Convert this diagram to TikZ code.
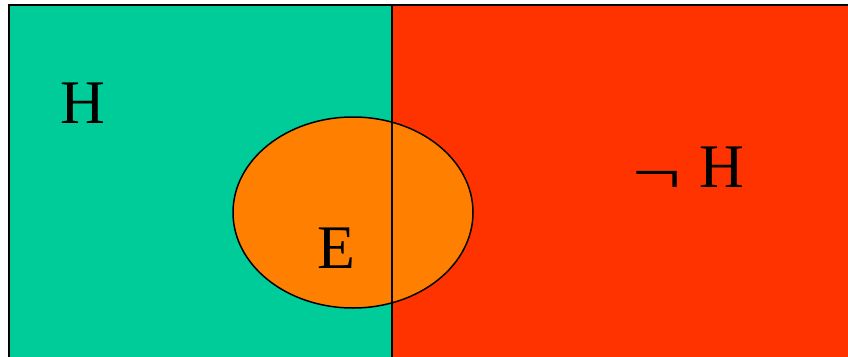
\documentclass[tikz,border=0pt]{standalone}
\usepackage{fontspec}
\setmainfont{Liberation Serif}
\usetikzlibrary{shapes.geometric}
\definecolor{hypo}{RGB}{  0,204,153}
\definecolor{nothypo}{RGB}{255, 51,  0}
\definecolor{evid}{RGB}{255,128,  0}
\newcommand{\negsign}{\raisebox{-6pt}{\scalebox{1.4}[1.0]{¬}}}
\tikzset{
  region/.style ={draw=none},
  rim/.style    ={line width=2pt, draw=black},
  evset/.style  ={ellipse, draw=black, line width=1.5pt, fill=evid,
                  minimum width=240pt, minimum height=191pt, inner sep=0pt},
  lbl/.style    ={font=\fontsize{62}{70}\selectfont, inner sep=0pt},
}
\begin{document}
\begin{tikzpicture}[x=1pt, y=-1pt]
\useasboundingbox (0,0) rectangle (848,356);
\clip (0,0) rectangle (848,356);
\fill[white] (0,0) rectangle (848,356);
\fill[hypo, region] (9,5) rectangle (392,360);
\fill[nothypo, region] (392,5) rectangle (852,360);
\node[evset] (ev) at (353,212.5) {};
% borders of the two regions
\coordinate (tl) at (9,5);
\coordinate (tr) at (852,5);
\coordinate (bl) at (9,360);
\coordinate (mt) at (392,5);
\coordinate (mb) at (392,360);
\draw[rim] (bl) -- (tl) -- (tr);
\draw[rim, line width=1.5pt] (mt) -- (mb);
\node[lbl] (h) at (83,103) {H};
\node[lbl] (e) at (336,248) {E};
\node[lbl, anchor=base] (nh) at (688,187) {\negsign\hspace{18pt}H};
\end{tikzpicture}
\end{document}
